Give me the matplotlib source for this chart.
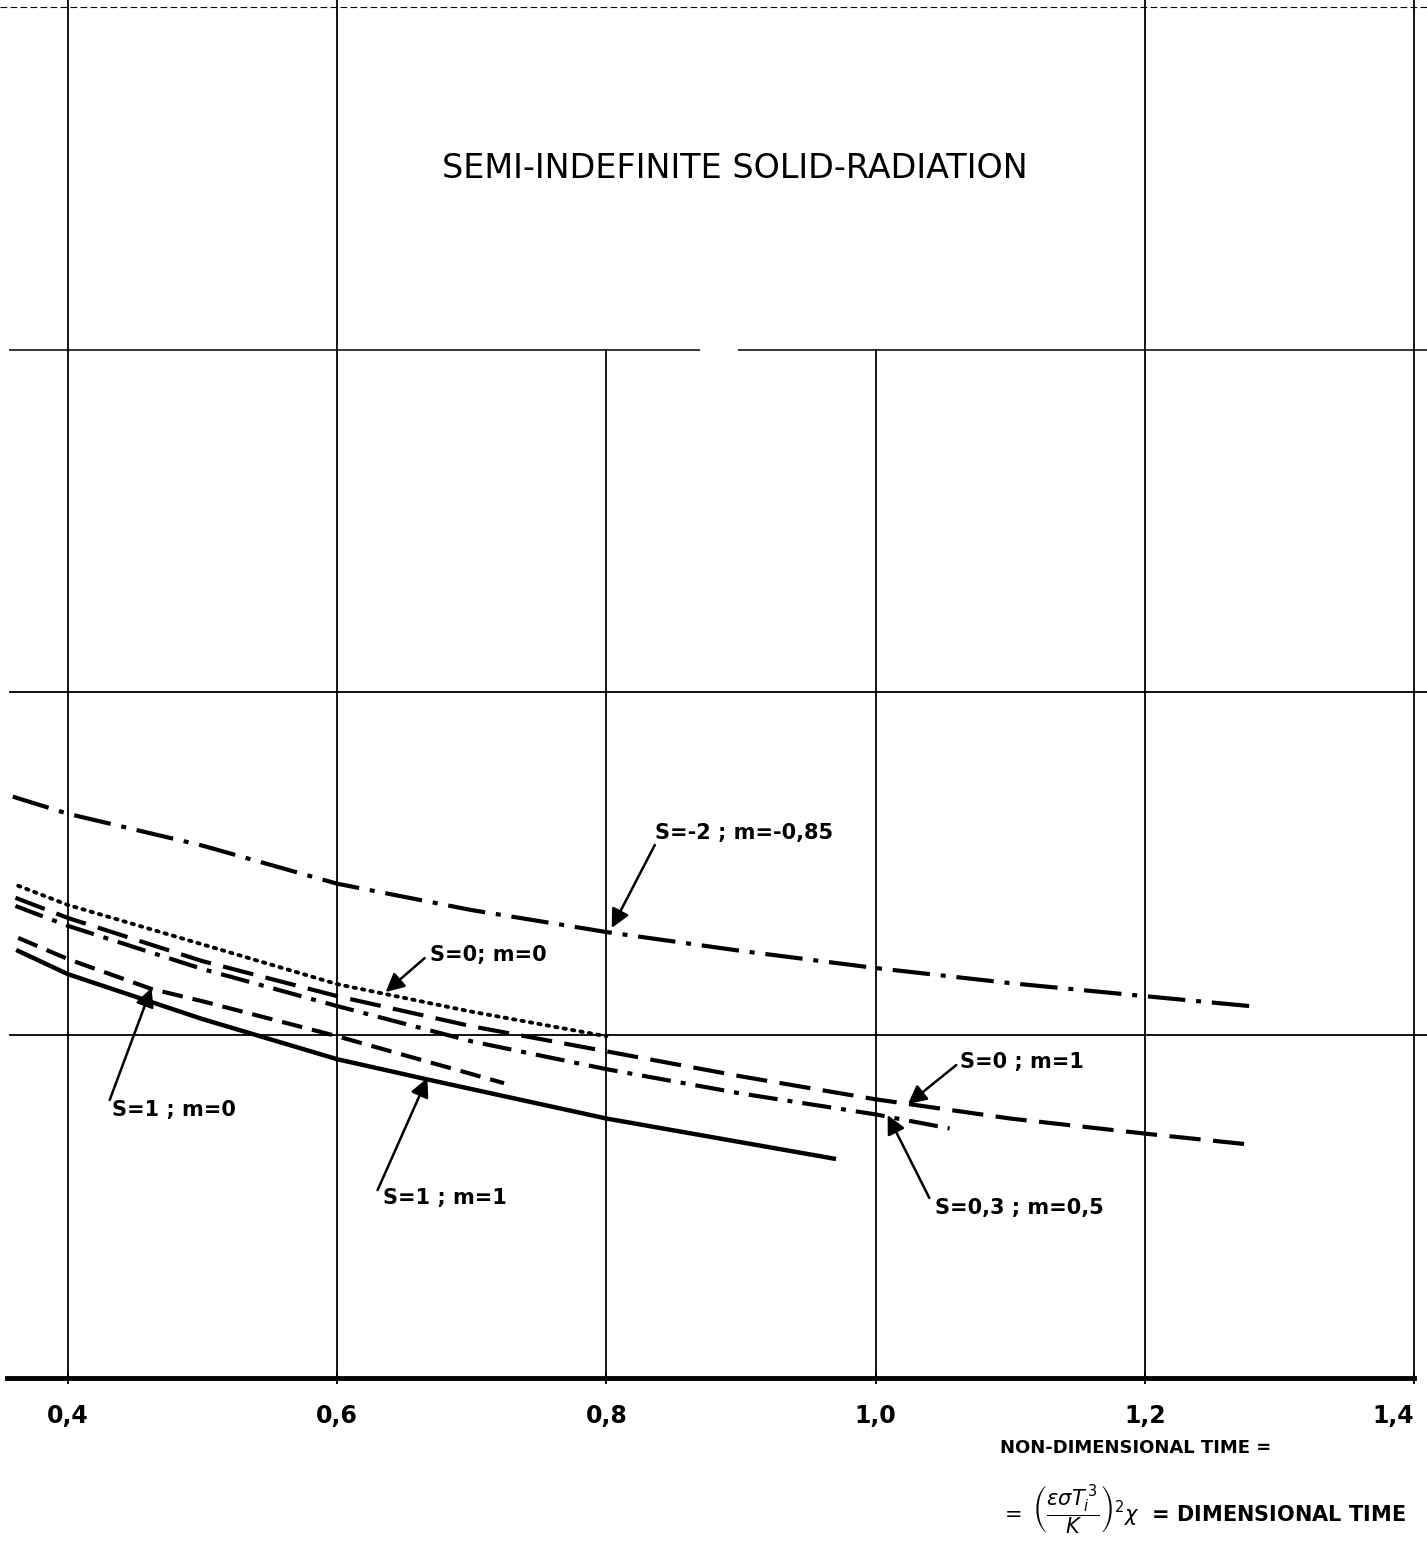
import matplotlib
matplotlib.use("Agg")
import matplotlib.pyplot as plt

# curves (x = non-dimensional time, y in grid units)
x_s2 = [0.359, 0.40, 0.50, 0.60, 0.70, 0.80, 0.90, 1.00, 1.10, 1.20, 1.278]
y_s2 = [1.696, 1.646, 1.553, 1.442, 1.365, 1.301, 1.246, 1.196, 1.152, 1.114, 1.085]

x_s0m0 = [0.363, 0.40, 0.499, 0.60, 0.698, 0.80]
y_s0m0 = [1.436, 1.380, 1.266, 1.149, 1.070, 0.997]

x_s0m1 = [0.361, 0.40, 0.50, 0.60, 0.70, 0.80, 0.90, 1.00, 1.10, 1.20, 1.278]
y_s0m1 = [1.401, 1.342, 1.216, 1.114, 1.026, 0.953, 0.880, 0.813, 0.757, 0.713, 0.681]

x_s03 = [0.361, 0.40, 0.50, 0.60, 0.70, 0.80, 0.90, 1.00, 1.055]
y_s03 = [1.377, 1.319, 1.193, 1.085, 0.982, 0.901, 0.830, 0.769, 0.728]

x_s1m0 = [0.363, 0.40, 0.462, 0.50, 0.60, 0.724]
y_s1m0 = [1.284, 1.222, 1.135, 1.099, 0.997, 0.860]

x_s1m1 = [0.363, 0.40, 0.50, 0.60, 0.667, 0.80, 0.969]
y_s1m1 = [1.246, 1.178, 1.047, 0.930, 0.871, 0.757, 0.640]

xticks = [0.4, 0.6, 0.8, 1.0, 1.2, 1.4]
xticklabels = ['0,4', '0,6', '0,8', '1,0', '1,2', '1,4']

plt.rcParams['mathtext.fontset'] = 'dejavusans'

fig = plt.figure(figsize=(14.27, 15.48), dpi=100)
ax = fig.add_axes([0.0, 1 - 1378 / 1548, 1.0, 1378 / 1548])
ax.set_xlim(0.3495, 1.4097)
ax.set_ylim(0, 4.02)

# grid, drawn by hand because part of it is missing behind the title
for gx in [0.4, 0.6, 1.2, 1.4]:
	ax.axvline(gx, color='black', lw=1.3, zorder=1)
for gx in [0.8, 1.0]:
	ax.axvline(gx, ymax=3 / 4.02, color='black', lw=1.3, zorder=1)
for gy in [1, 2]:
	ax.axhline(gy, xmin=0.007, color='black', lw=1.3, zorder=1)
ax.hlines(3, 0.356, 0.8695, color='black', lw=1.1, zorder=1)
ax.hlines(3, 0.8978, 1.4097, color='black', lw=1.1, zorder=1)
ax.axhline(4.0, color='black', lw=0.8, ls=(0, (6, 3)), zorder=1)

ax.plot(x_s2, y_s2, color='black', lw=3.0, ls=(0, (9, 2.6, 1.2, 2.6)), zorder=3)
ax.plot(x_s0m0, y_s0m0, color='black', lw=2.8, ls=(0, (0.6, 1.6)), dash_capstyle='round', zorder=3)
ax.plot(x_s0m1, y_s0m1, color='black', lw=3.0, ls=(0, (7.5, 3)), zorder=3)
ax.plot(x_s03, y_s03, color='black', lw=3.0, ls=(0, (7, 2.4, 1.2, 2.4)), zorder=3)
ax.plot(x_s1m0, y_s1m0, color='black', lw=3.0, ls=(0, (5, 2.4)), zorder=3)
ax.plot(x_s1m1, y_s1m1, color='black', lw=3.2, zorder=3)

arrow = dict(arrowstyle='-|>', color='black', lw=1.8, mutation_scale=28, shrinkA=0, shrinkB=0)
notes = [
	('S=-2 ; m=-0,85', (0.836, 1.590), (0.836, 1.555), (0.804, 1.313)),
	('S=0; m=0', (0.669, 1.234), (0.665, 1.225), (0.636, 1.126)),
	('S=0 ; m=1', (1.063, 0.922), (1.060, 0.913), (1.024, 0.799)),
	('S=0,3 ; m=0,5', (1.044, 0.496), (1.040, 0.525), (1.009, 0.767)),
	('S=1 ; m=1', (0.634, 0.525), (0.630, 0.548), (0.667, 0.875)),
	('S=1 ; m=0', (0.433, 0.782), (0.431, 0.811), (0.462, 1.138)),
]
for label, tpos, tail, tip in notes:
	ax.text(tpos[0], tpos[1], label, fontsize=15, fontweight='bold', ha='left', va='center', zorder=4)
	ax.annotate('', xy=tip, xytext=tail, arrowprops=arrow, zorder=4)

ax.text(0.8955, 3.529, 'SEMI-INDEFINITE SOLID-RADIATION', fontsize=24, ha='center', va='center')

for side in ['top', 'left', 'right']:
	ax.spines[side].set_visible(False)
ax.spines['bottom'].set_linewidth(3.5)
ax.spines['bottom'].set_bounds(0.355, 1.4)
ax.set_yticks([])
ax.set_xticks(xticks)
ax.set_xticklabels(xticklabels, fontsize=17, fontweight='bold')
ax.get_xticklabels()[-1].set_horizontalalignment('right')
ax.tick_params(axis='x', length=9, width=1.3, direction='inout', pad=14)

fig.text(1000 / 1427, 1 - 1448 / 1548, 'NON-DIMENSIONAL TIME =', fontsize=13, fontweight='bold', ha='left', va='center')
fig.text(1000 / 1427, 1 - 1510 / 1548,
	r'$=\ \left(\dfrac{\varepsilon\sigma T_i^{\,3}}{K}\right)^{2}\chi$  = DIMENSIONAL TIME',
	fontsize=15, fontweight='bold', ha='left', va='center')

fig.savefig('out.png', dpi=100)
